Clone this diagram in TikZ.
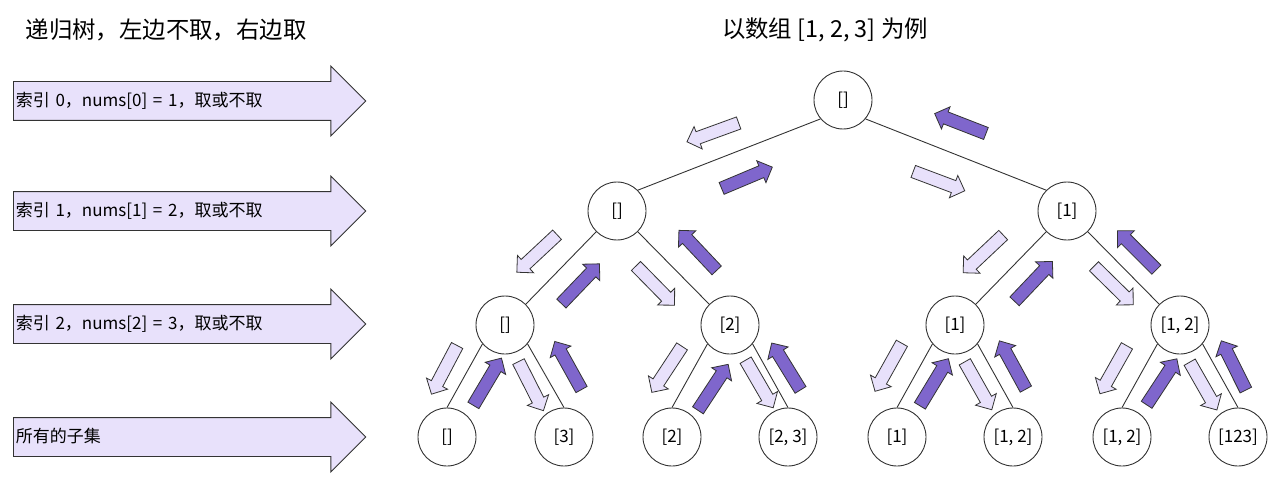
\documentclass[tikz,border=0pt]{standalone}
\usepackage{fontspec}
\setmainfont{Noto Sans CJK SC}
\usetikzlibrary{shapes.arrows,positioning}
\definecolor{lightpurple}{RGB}{232,225,251}
\definecolor{darkpurple}{RGB}{127,102,204}
\definecolor{linegray}{RGB}{51,51,51}
\tikzset{
  setnode/.style={
    draw=linegray,
    circle,
    line width=0.9pt,
    minimum size=58pt,
    inner sep=0pt,
    font=\fontsize{17pt}{20pt}\selectfont
  },
  treeedge/.style={draw=linegray,line width=0.9pt},
  levelarrow/.style={
    single arrow,
    draw=linegray,
    fill=lightpurple,
    line width=0.9pt,
    single arrow head extend=15.5pt,
    text height=14pt,
    text depth=3pt,
    inner ysep=10.5pt,
    inner xsep=2pt,
    text width=328pt,
    align=left,
    anchor=tail,
    font=\fontsize{17pt}{20pt}\selectfont
  },
  steparrow/.style={
    single arrow,
    draw=linegray,
    line width=0.8pt,
    minimum height=55pt,
    text height=0pt,
    text depth=0pt,
    inner xsep=0pt,
    inner ysep=6pt,
    single arrow head extend=5.5pt
  },
  takearrow/.style={steparrow,fill=lightpurple},
  backarrow/.style={steparrow,fill=darkpurple}
}

\begin{document}
\begin{tikzpicture}[x=1pt,y=-1pt]
  \useasboundingbox (0,0) rectangle (1280,484);
  % titles
  \node[anchor=west,inner sep=0pt,font=\fontsize{23.4pt}{26pt}\selectfont]
    (treetitle) at (25.5,30) {递归树，左边不取，右边取};
  \node[inner sep=0pt,font=\fontsize{23.4pt}{26pt}\selectfont]
    (exampletitle) at (825,30) {以数组 [1, 2, 3] 为例};
  % levels
  \node[levelarrow] (idx0) at (13,101) {索引 0，nums[0] = 1，取或不取};
  \node[levelarrow] (idx1) at (13,211) {索引 1，nums[1] = 2，取或不取};
  \node[levelarrow] (idx2) at (13,324) {索引 2，nums[2] = 3，取或不取};
  \node[levelarrow] (allsets) at (13,437) {所有的子集};
  % tree
  \node[setnode] (root) at (843,100) {[]};
  \node[setnode] (l) at (617,211) {[]};
  \node[setnode] (r) at (1067,211) {[1]};
  \node[setnode] (ll) at (505,325) {[]};
  \node[setnode] (lr) at (730,325) {[2]};
  \node[setnode] (rl) at (955,325) {[1]};
  \node[setnode] (rr) at (1180,325) {[1, 2]};
  \node[setnode] (lll) at (447,437) {[]};
  \node[setnode] (llr) at (564,437) {[3]};
  \node[setnode] (lrl) at (672,437) {[2]};
  \node[setnode] (lrr) at (788,437) {[2, 3]};
  \node[setnode] (rll) at (897,437) {[1]};
  \node[setnode] (rlr) at (1013,437) {[1, 2]};
  \node[setnode] (rrl) at (1122,437) {[1, 2]};
  \node[setnode] (rrr) at (1238,437) {[123]};
  \draw[treeedge] (root.220) -- (l.45);
  \draw[treeedge] (root.320) -- (r.135);
  \draw[treeedge] (l.225) -- (ll.45);
  \draw[treeedge] (l.315) -- (lr.135);
  \draw[treeedge] (r.225) -- (rl.45);
  \draw[treeedge] (r.315) -- (rr.135);
  \draw[treeedge] (ll.220) -- (lll.north);
  \draw[treeedge] (ll.320) -- (llr.north);
  \draw[treeedge] (lr.220) -- (lrl.north);
  \draw[treeedge] (lr.320) -- (lrr.north);
  \draw[treeedge] (rl.220) -- (rll.north);
  \draw[treeedge] (rl.320) -- (rlr.north);
  \draw[treeedge] (rr.220) -- (rrl.north);
  \draw[treeedge] (rr.320) -- (rrr.north);
  % going down (light) and coming back (dark)
  \node[takearrow,rotate=200] (a1) at (715.8,131.3) {};
  \node[backarrow,rotate=22.8] (a2) at (744,179) {};
  \node[backarrow,rotate=158.8] (a3) at (963.3,124.7) {};
  \node[takearrow,rotate=-20.6] (a4) at (936,180) {};
  \node[takearrow,rotate=223] (b1) at (539.3,251.3) {};
  \node[backarrow,rotate=46.2] (b2) at (578.2,286) {};
  \node[takearrow,rotate=-45.5] (b3) at (653,283.3) {};
  \node[backarrow,rotate=133.3] (b4) at (700,252.7) {};
  \node[takearrow,rotate=223.3] (c1) at (985.5,251.7) {};
  \node[backarrow,rotate=46.5] (c2) at (1031.3,283.7) {};
  \node[takearrow,rotate=-44.5] (c3) at (1111.3,283.3) {};
  \node[backarrow,rotate=135] (c4) at (1139.2,252.5) {};
  \node[takearrow,rotate=242.2] (d1) at (445.8,367) {};
  \node[backarrow,rotate=59.3] (d2) at (485.8,384.5) {};
  \node[takearrow,rotate=-63.1] (d3) at (529.5,383.3) {};
  \node[backarrow,rotate=119.1] (d4) at (569.7,368.3) {};
  \node[takearrow,rotate=236.7] (e1) at (668.7,366.7) {};
  \node[backarrow,rotate=56.7] (e2) at (711.3,390) {};
  \node[takearrow,rotate=-59.9] (e3) at (757.8,381.2) {};
  \node[backarrow,rotate=121.6] (e4) at (787.8,369.2) {};
  \node[takearrow,rotate=240.8] (f1) at (890,364.5) {};
  \node[backarrow,rotate=58.8] (f2) at (932.5,385) {};
  \node[takearrow,rotate=-60.6] (f3) at (976.7,383) {};
  \node[backarrow,rotate=118.7] (f4) at (1014.2,367.8) {};
  \node[takearrow,rotate=240.6] (g1) at (1115,367) {};
  \node[backarrow,rotate=56.7] (g2) at (1160,384.5) {};
  \node[takearrow,rotate=-60.3] (g3) at (1201.7,383.3) {};
  \node[backarrow,rotate=116.5] (g4) at (1235,368.3) {};
\end{tikzpicture}
\end{document}
